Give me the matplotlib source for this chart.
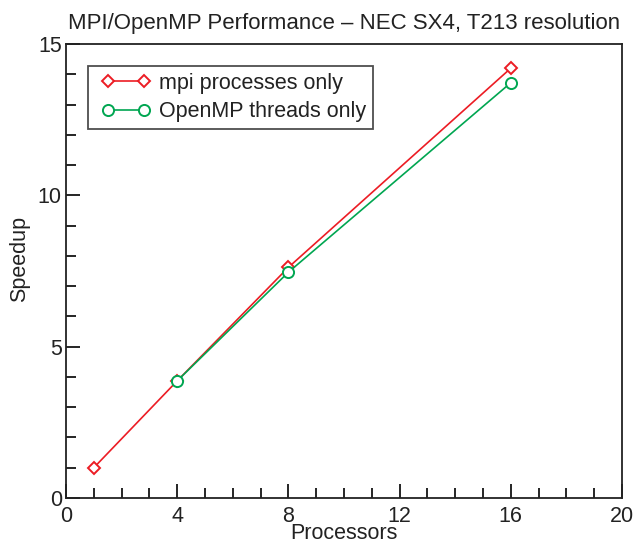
import matplotlib
matplotlib.use("Agg")
import matplotlib.pyplot as plt
from matplotlib.ticker import MultipleLocator
from matplotlib.legend_handler import HandlerLine2D

plt.rcParams['font.family'] = ['Liberation Sans', 'DejaVu Sans']

mpi_x = [1, 4, 8, 16]
mpi_y = [1.0, 3.87, 7.62, 14.2]
omp_x = [4, 8, 16]
omp_y = [3.87, 7.46, 13.72]

fig = plt.figure(figsize=(6.38, 5.45), dpi=100)
ax = fig.add_axes([66/638, 1-498/545, (622-66)/638, (498-44)/545])

red = '#ec1c24'
green = '#00a651'
l1, = ax.plot(mpi_x, mpi_y, color=red, lw=1.2, marker='D', ms=6.2, mfc='white', mec=red, mew=1.4,
              label='mpi processes only')
l2, = ax.plot(omp_x, omp_y, color=green, lw=1.2, marker='o', ms=8, mfc='white', mec=green, mew=1.4,
              label='OpenMP threads only')

ax.set_xlim(0, 20)
ax.set_ylim(0, 15)
ax.xaxis.set_major_locator(MultipleLocator(4))
ax.xaxis.set_minor_locator(MultipleLocator(1))
ax.yaxis.set_major_locator(MultipleLocator(5))
ax.yaxis.set_minor_locator(MultipleLocator(1))
ax.tick_params(which='both', direction='in', top=False, right=False, labelsize=15.5, width=1.2,
               labelcolor='#222222')
ax.tick_params(axis='x', which='both', pad=5.5)
ax.tick_params(axis='y', which='both', pad=3)
ax.tick_params(which='major', length=10)
ax.tick_params(which='minor', length=7)
for s in ax.spines.values():
    s.set_linewidth(1.3)
    s.set_color('#222222')

ax.set_xlabel('Processors', fontsize=15.5, color='#222222')
ax.xaxis.set_label_coords(0.5, -0.055)
ax.set_ylabel('Speedup', fontsize=15.5, color='#222222')
ax.yaxis.set_label_coords(-0.065, 0.526)
ax.set_title('MPI/OpenMP Performance \u2013 NEC SX4, T213 resolution', fontsize=16, pad=11,
             color='#222222')

hm = {l1: HandlerLine2D(marker_pad=0.6), l2: HandlerLine2D(marker_pad=0.6)}
leg = ax.legend(loc='upper left', bbox_to_anchor=(0.04, 0.951), numpoints=2, fontsize=15.5,
                frameon=True, fancybox=False, edgecolor='#222222', handlelength=2.9,
                borderpad=0.3, labelspacing=0.35, handletextpad=0.1, borderaxespad=0,
                handler_map=hm)
leg.get_frame().set_linewidth(1.3)
for t in leg.get_texts():
    t.set_color('#222222')

fig.savefig('out.png', dpi=100)
